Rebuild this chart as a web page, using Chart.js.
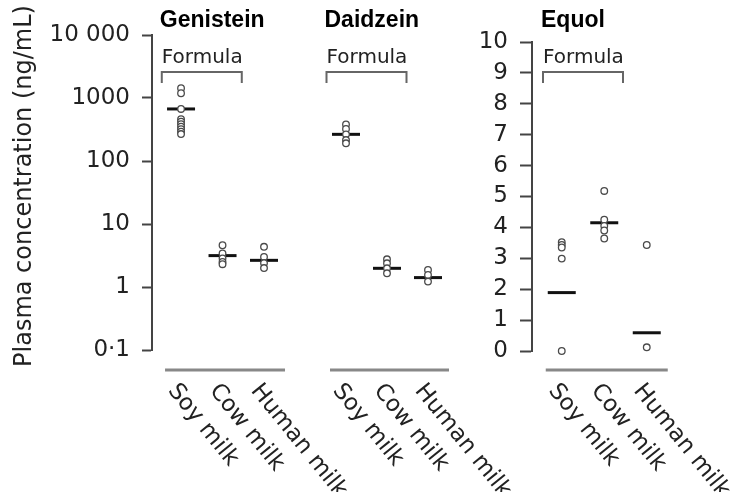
<!DOCTYPE html>
<html>
<head>
<meta charset="utf-8">
<script src="https://cdn.jsdelivr.net/npm/chart.js@4"></script>
<style>
  html, body { margin: 0; padding: 0; background: #fff; }
  #wrap { position: relative; width: 748px; height: 492px; }
  #wrap canvas { position: absolute; left: 0; top: 0; }
</style>
</head>
<body>
<div id="wrap">
  <canvas id="genistein" width="748" height="492"></canvas>
  <canvas id="daidzein" width="748" height="492"></canvas>
  <canvas id="equol" width="748" height="492"></canvas>
</div>
<script>
const categories = ["Soy milk", "Cow milk", "Human milk"];
const groupLabel = "Formula";
const yTitle = "Plasma concentration (ng/mL)";

const logTickValues = [0.1, 1, 10, 100, 1000, 10000];
const logTickLabels = ["0·1", "1", "10", "100", "1000", "10 000"];
const equolTickValues = [0, 1, 2, 3, 4, 5, 6, 7, 8, 9, 10];

// one array per category: soy, cow, human
const genisteinPoints = [
  [1430, 1190, 670, 460, 420, 385, 350, 320, 292, 268],
  [4.6, 3.4, 2.85, 2.5, 2.3],
  [4.35, 3.0, 2.4, 2.0],
];
const genisteinMedians = [670, 3.15, 2.65];

const daidzeinPoints = [
  [380, 322, 265, 215, 191],
  [2.75, 2.38, 1.98, 1.65],
  [1.86, 1.55, 1.22],
];
const daidzeinMedians = [265, 1.98, 1.41];

const equolPoints = [
  [3.52, 3.43, 3.35, 2.99, 0],
  [5.18, 4.25, 4.05, 3.9, 3.64],
  [3.43, 0.12],
];
const equolMedians = [1.89, 4.15, 0.59];

Chart.defaults.font.family = "'DejaVu Sans', sans-serif";
Chart.defaults.color = "#222";

const decor = {
  id: "decor",
  afterDraw(chart, args, opts) {
    const ctx = chart.ctx;
    const x = chart.scales.x;
    const soy = x.getPixelForValue(1);
    const cow = x.getPixelForValue(2);
    const human = x.getPixelForValue(3);
    const mid = (soy + cow) / 2;
    const bl = mid - 40, br = mid + 40;
    ctx.save();
    ctx.textAlign = "left";
    ctx.textBaseline = "alphabetic";
    ctx.fillStyle = "#000";
    ctx.font = "bold 23px 'Liberation Sans'";
    ctx.fillText(opts.title, bl - 2, 27);

    ctx.fillStyle = "#222";
    ctx.font = "20px 'DejaVu Sans'";
    ctx.fillText(groupLabel, bl, 63);

    ctx.strokeStyle = "#666";
    ctx.lineWidth = 2;
    ctx.beginPath();
    ctx.moveTo(bl, 83);
    ctx.lineTo(bl, 72);
    ctx.lineTo(br, 72);
    ctx.lineTo(br, 83);
    ctx.stroke();

    ctx.strokeStyle = "#888";
    ctx.lineWidth = 3;
    ctx.beginPath();
    ctx.moveTo(soy - 16, 370);
    ctx.lineTo(human + 21, 370);
    ctx.stroke();

    ctx.font = "23px 'DejaVu Sans'";
    ctx.textBaseline = "middle";
    categories.forEach((c, i) => {
      ctx.save();
      ctx.translate(x.getPixelForValue(i + 1) - 9, 387);
      ctx.rotate(51 * Math.PI / 180);
      ctx.fillText(c, 0, 0);
      ctx.restore();
    });

    if (opts.yTitle) {
      ctx.save();
      ctx.font = "24px 'DejaVu Sans'";
      ctx.textAlign = "center";
      ctx.translate(25, 186);
      ctx.rotate(-Math.PI / 2);
      ctx.fillText(opts.yTitle, 0, 0);
      ctx.restore();
    }
    ctx.restore();
  },
};

function toXY(columns) {
  return columns.flatMap((vals, i) => vals.map(v => ({ x: i + 1, y: v })));
}

function makePanel(id, title, points, medians, yScale, padding, xMin, xMax, axisTitle) {
  return new Chart(document.getElementById(id), {
    type: "scatter",
    data: {
      datasets: [
        {
          data: toXY(points),
          pointStyle: "circle",
          pointRadius: 3.3,
          borderWidth: 1.3,
          borderColor: "#4a4a4a",
          backgroundColor: "#fff",
          order: 0,
          clip: false,
        },
        {
          data: medians.map((m, i) => ({ x: i + 1, y: m })),
          pointStyle: "line",
          pointRadius: 14,
          borderWidth: 3,
          borderColor: "#111",
          order: 1,
          clip: false,
        },
      ],
    },
    options: {
      responsive: false,
      animation: false,
      layout: { padding: padding },
      plugins: {
        legend: { display: false },
        tooltip: { enabled: false },
        decor: { title: title, yTitle: axisTitle },
      },
      scales: {
        x: { type: "linear", min: xMin, max: xMax, display: false },
        y: yScale,
      },
    },
    plugins: [decor],
  });
}

const logAxis = {
  type: "logarithmic",
  min: 0.1,
  max: 10000,
  afterBuildTicks: (s) => { s.ticks = logTickValues.map(v => ({ value: v })); },
  afterFit: (s) => { s.width = 148; },
  ticks: {
    callback: (v, i) => logTickLabels[i],
    font: { size: 23 },
    color: "#222",
    padding: 12,
  },
  grid: { drawOnChartArea: false, drawTicks: true, tickLength: 10, tickColor: "#444", tickWidth: 2 },
  border: { display: true, color: "#444", width: 2 },
};

makePanel("genistein", "Genistein", genisteinPoints, genisteinMedians, logAxis,
  { left: 4, top: 35, right: 442.5, bottom: 142 }, 0.3, 4.0, yTitle);

makePanel("daidzein", "Daidzein", daidzeinPoints, daidzeinMedians,
  { type: "logarithmic", min: 0.1, max: 10000, display: false },
  { left: 313.2, top: 35, right: 287.2, bottom: 142 }, 0.2, 3.8);

makePanel("equol", "Equol", equolPoints, equolMedians, {
  type: "linear",
  min: 0,
  max: 10,
  afterBuildTicks: (s) => { s.ticks = equolTickValues.map(v => ({ value: v })); },
  afterFit: (s) => { s.width = 60; },
  ticks: { font: { size: 23 }, color: "#222", padding: 12 },
  grid: { drawOnChartArea: false, drawTicks: true, tickLength: 12, tickColor: "#444", tickWidth: 2 },
  border: { display: true, color: "#444", width: 2 },
}, { left: 472, top: 42, right: 58.75, bottom: 141 }, 0.3, 4.0);
</script>
</body>
</html>
